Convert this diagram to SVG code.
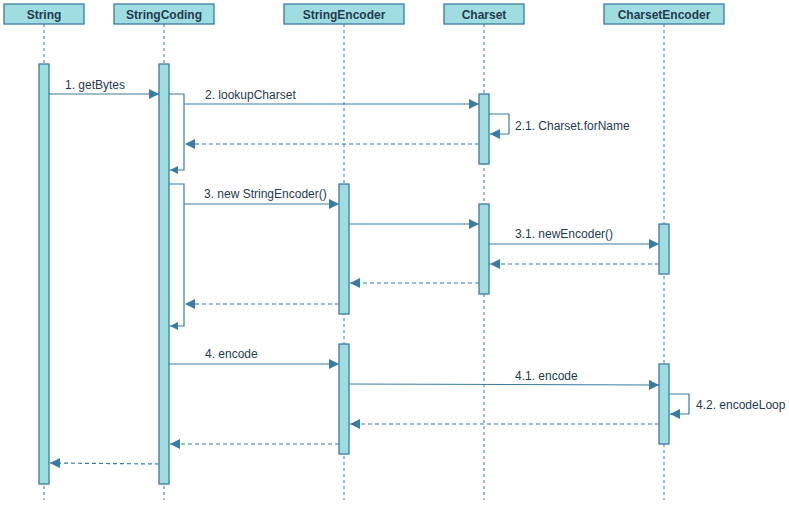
<svg xmlns="http://www.w3.org/2000/svg" width="789" height="506" viewBox="0 0 789 506">
<style>
.hdr{fill:#a0dde0;stroke:#3a7ba3;stroke-width:1.3}
.ht{font-family:"Liberation Sans",Arial,sans-serif;font-size:12px;font-weight:bold;fill:#253a4f;text-anchor:middle}
.life{stroke:#3a7ba3;stroke-width:1;stroke-dasharray:3,3;fill:none}
.act{fill:#a0dde0;stroke:#3a7ba3;stroke-width:1.3}
.msg{stroke:#3a7ba3;stroke-width:1.2;fill:none}
.ret{stroke:#3a7ba3;stroke-width:1.2;fill:none;stroke-dasharray:4,3}
.lbl{font-family:"Liberation Sans",Arial,sans-serif;font-size:12px;fill:#253a4f}
</style>
<defs>
<marker id="ah" viewBox="0 0 10 10" refX="10" refY="5" markerWidth="10" markerHeight="10" markerUnits="userSpaceOnUse" orient="auto">
<path d="M0,0 L10,5 L0,10 Z" fill="#3a7ba3"/>
</marker>
<marker id="as" viewBox="0 0 10 10" refX="10" refY="5" markerWidth="8" markerHeight="8" markerUnits="userSpaceOnUse" orient="auto">
<path d="M0,0 L10,5 L0,10 Z" fill="#3a7ba3"/>
</marker>
</defs>
<rect width="789" height="506" fill="#fff"/>
<g id="String">
<line class="life" x1="44" y1="24" x2="44" y2="500"/>
<rect class="hdr" x="4" y="4" width="80" height="20"/>
<text class="ht" x="44" y="18.5">String</text>
<rect class="act" x="39" y="64" width="10" height="420"/>
</g>
<g id="StringCoding">
<line class="life" x1="164" y1="24" x2="164" y2="500"/>
<rect class="hdr" x="114" y="4" width="100" height="20"/>
<text class="ht" x="164" y="18.5">StringCoding</text>
<rect class="act" x="159" y="64" width="10" height="420"/>
</g>
<g id="StringEncoder">
<line class="life" x1="344" y1="24" x2="344" y2="500"/>
<rect class="hdr" x="284" y="4" width="120" height="20"/>
<text class="ht" x="344" y="18.5">StringEncoder</text>
<rect class="act" x="339" y="184" width="10" height="130"/>
<rect class="act" x="339" y="344" width="10" height="110"/>
</g>
<g id="Charset">
<line class="life" x1="484" y1="24" x2="484" y2="500"/>
<rect class="hdr" x="444" y="4" width="80" height="20"/>
<text class="ht" x="484" y="18.5">Charset</text>
<rect class="act" x="479" y="94" width="10" height="70"/>
<rect class="act" x="479" y="204" width="10" height="90"/>
</g>
<g id="CharsetEncoder">
<line class="life" x1="664" y1="24" x2="664" y2="500"/>
<rect class="hdr" x="604" y="4" width="120" height="20"/>
<text class="ht" x="664" y="18.5">CharsetEncoder</text>
<rect class="act" x="659" y="224" width="10" height="50"/>
<rect class="act" x="659" y="364" width="10" height="80"/>
</g>
<g id="connectors">
<line class="msg" x1="49" y1="94" x2="159" y2="94" marker-end="url(#ah)"/>
<text class="lbl" x="65" y="89">1. getBytes</text>
<polyline class="msg" points="169,94 184,94 184,170 170,170" marker-end="url(#as)"/>
<line class="msg" x1="184" y1="104" x2="479" y2="104" marker-end="url(#ah)"/>
<text class="lbl" x="205" y="99">2. lookupCharset</text>
<polyline class="msg" points="489,114 509,114 509,134 490,134" marker-end="url(#ah)"/>
<text class="lbl" x="515" y="130">2.1. Charset.forName</text>
<line class="ret" x1="479" y1="144" x2="185" y2="144" marker-end="url(#ah)"/>
<polyline class="msg" points="169,184 184,184 184,326 170,326" marker-end="url(#as)"/>
<line class="msg" x1="184" y1="204" x2="339" y2="204" marker-end="url(#ah)"/>
<text class="lbl" x="204" y="198">3. new StringEncoder()</text>
<line class="msg" x1="349" y1="224" x2="479" y2="224" marker-end="url(#ah)"/>
<line class="msg" x1="489" y1="244" x2="659" y2="244" marker-end="url(#ah)"/>
<text class="lbl" x="515" y="238">3.1. newEncoder()</text>
<line class="ret" x1="659" y1="264" x2="490" y2="264" marker-end="url(#ah)"/>
<line class="ret" x1="479" y1="283" x2="350" y2="283" marker-end="url(#ah)"/>
<line class="ret" x1="339" y1="304" x2="185" y2="304" marker-end="url(#ah)"/>
<line class="msg" x1="169" y1="364" x2="339" y2="364" marker-end="url(#ah)"/>
<text class="lbl" x="205" y="358">4. encode</text>
<line class="msg" x1="349" y1="384" x2="659" y2="385" marker-end="url(#ah)"/>
<text class="lbl" x="515" y="380">4.1. encode</text>
<polyline class="msg" points="669,394 689,394 689,414 670,414" marker-end="url(#ah)"/>
<text class="lbl" x="696" y="409">4.2. encodeLoop</text>
<line class="ret" x1="659" y1="424" x2="350" y2="424" marker-end="url(#ah)"/>
<line class="ret" x1="339" y1="444" x2="170" y2="444" marker-end="url(#ah)"/>
<line class="ret" x1="159" y1="464" x2="50" y2="463" marker-end="url(#ah)"/>
</g>
</svg>
